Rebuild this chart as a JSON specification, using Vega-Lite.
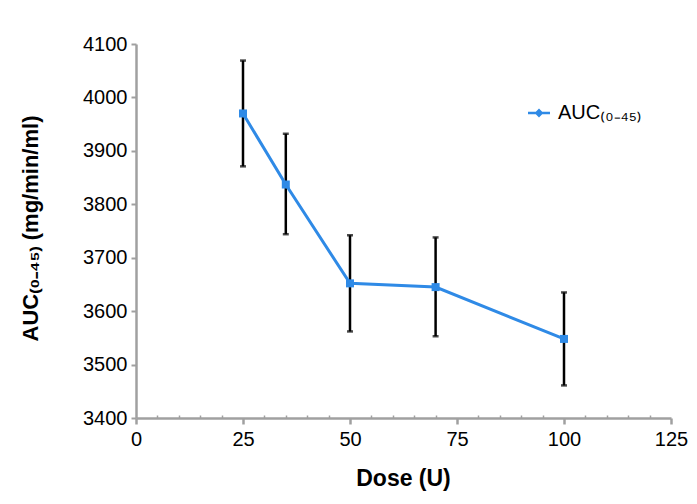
{
  "$schema": "https://vega.github.io/schema/vega-lite/v6.json",
  "width": 535,
  "height": 374,
  "autosize": "none",
  "padding": {"left": 136, "top": 44, "right": 26, "bottom": 86},
  "background": "white",
  "config": {
    "view": {"stroke": null},
    "font": "Liberation Sans"
  },
  "data": {
    "values": [
      {"dose": 25, "auc": 3970, "lo": 3871, "hi": 4069},
      {"dose": 35, "auc": 3837, "lo": 3744, "hi": 3932},
      {"dose": 50, "auc": 3652, "lo": 3562, "hi": 3742},
      {"dose": 70, "auc": 3645, "lo": 3553, "hi": 3738},
      {"dose": 100, "auc": 3548, "lo": 3461, "hi": 3635}
    ]
  },
  "encoding": {
    "x": {
      "field": "dose",
      "type": "quantitative",
      "scale": {"domain": [0, 125], "nice": false},
      "axis": {
        "title": "Dose (U)",
        "titleFont": "Liberation Sans",
        "titleFontSize": 23,
        "titleFontWeight": "bold",
        "titleColor": "black",
        "titleX": 267,
        "titleY": 60,
        "titleBaseline": "middle",
        "values": [0,5,10,15,20,25,30,35,40,45,50,55,60,65,70,75,80,85,90,95,100,105,110,115,120,125],
        "labelExpr": "datum.value % 25 === 0 ? datum.label : ''",
        "labelOverlap": false,
        "labelFlush": false,
        "labelFontSize": 20,
        "labelColor": "black",
        "labelPadding": 5,
        "grid": false,
        "domainColor": "#a0a0a0",
        "domainWidth": 2.5,
        "tickColor": "#a0a0a0",
        "tickSize": {"condition": {"test": "datum.value % 25 === 0", "value": 6}, "value": -3},
        "tickWidth": {"condition": {"test": "datum.value % 25 === 0", "value": 2.5}, "value": 1.5}
      }
    }
  },
  "layer": [
    {
      "mark": {"type": "errorbar", "ticks": {"size": 6, "thickness": 2.5, "color": "black"}, "rule": {"strokeWidth": 2.5, "color": "black"}},
      "encoding": {
        "y": {
          "field": "lo",
          "type": "quantitative",
          "scale": {"domain": [3400, 4100], "nice": false},
          "axis": {
            "title": "AUC₍₀₋₄₅₎ (mg/min/ml)",
            "titleFont": "Liberation Sans",
            "titleFontSize": 22,
            "titleFontWeight": "bold",
            "titleColor": "black",
            "titleX": -106,
            "titleY": 184,
            "titleAngle": 270,
            "titleBaseline": "middle",
            "values": [3400,3500,3600,3700,3800,3900,4000,4100],
            "format": "d",
            "labelFontSize": 20,
            "labelColor": "black",
            "labelPadding": 4,
            "labelFlush": false,
            "grid": false,
            "domainColor": "#a0a0a0",
            "domainWidth": 2.5,
            "tickColor": "#a0a0a0",
            "tickSize": 5,
            "tickWidth": 2
          }
        },
        "y2": {"field": "hi"}
      }
    },
    {
      "mark": {"type": "line", "strokeWidth": 3},
      "encoding": {
        "y": {"field": "auc", "type": "quantitative"},
        "color": {
          "datum": "AUC₍₀₋₄₅₎",
          "type": "nominal",
          "scale": {"range": ["#2f8ae6"]},
          "legend": {
            "title": null,
            "orient": "none",
            "legendX": 392,
            "legendY": 58,
            "labelFontSize": 20,
            "labelColor": "black",
            "symbolType": "M-1,-0.12H1V0.12H-1Z M0,-0.4L0.4,0L0,0.4L-0.4,0Z",
            "symbolSize": 484,
            "symbolFillColor": "#2f8ae6",
            "symbolStrokeColor": "#2f8ae6",
            "symbolStrokeWidth": 0,
            "labelOffset": 8
          }
        }
      }
    },
    {
      "mark": {"type": "point", "shape": "square", "filled": true, "size": 64, "opacity": 1, "color": "#2f8ae6"},
      "encoding": {
        "y": {"field": "auc", "type": "quantitative"}
      }
    }
  ]
}
